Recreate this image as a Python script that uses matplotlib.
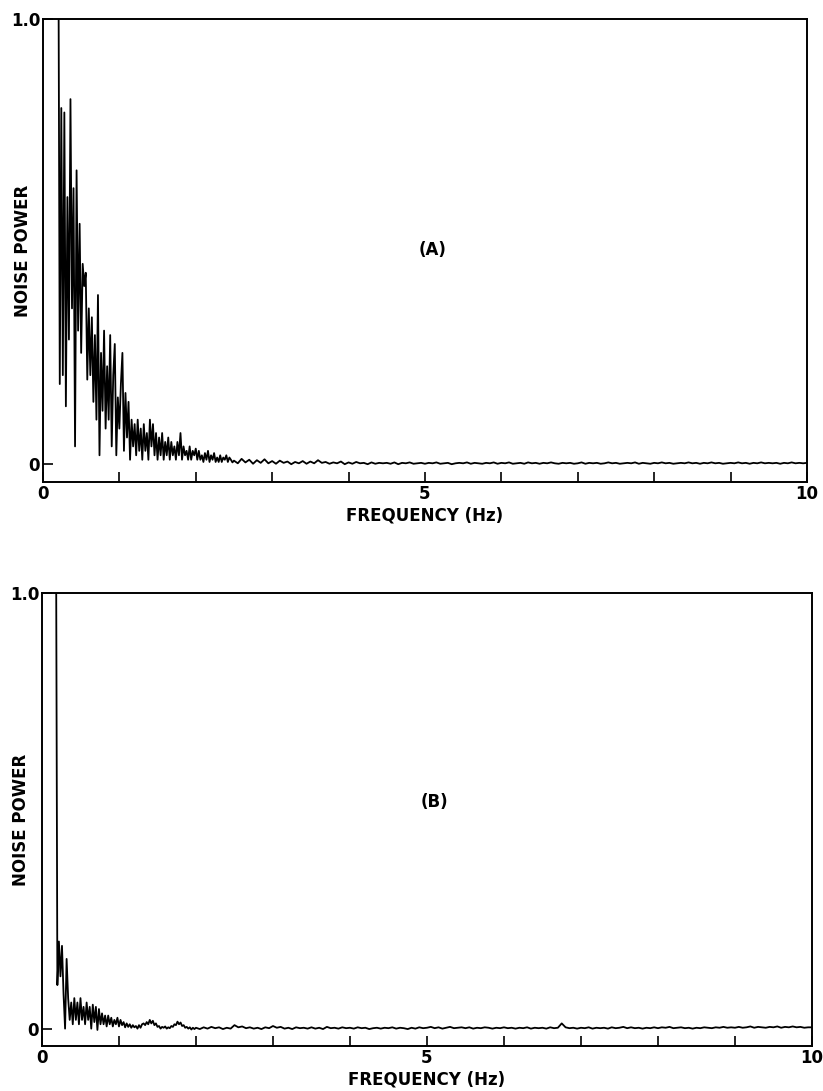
import matplotlib
matplotlib.use("Agg")
import matplotlib.pyplot as plt
import numpy as np

plt.rcParams['font.family'] = ['DejaVu Sans']
plt.rcParams['font.weight'] = 'bold'

fs = 12

# --- panel A: low-frequency part, 0.02 Hz bins starting at 0.20 Hz ---
a_low_start = 0.20
a_low_step = 0.02
a_low_power = [
    1.30, 0.18, 0.80, 0.20, 0.79, 0.13, 0.60, 0.28, 0.82, 0.35,
    0.62, 0.04, 0.66, 0.30, 0.54, 0.25, 0.45, 0.40, 0.43, 0.19,
    0.35, 0.20, 0.33, 0.14, 0.29, 0.10, 0.38, 0.02, 0.25, 0.12,
    0.30, 0.08, 0.22, 0.10, 0.29, 0.04, 0.20, 0.27, 0.02, 0.15,
    0.08, 0.18, 0.25, 0.03, 0.16, 0.06, 0.14, 0.01, 0.10, 0.04,
    0.09, 0.02, 0.10, 0.03, 0.08, 0.01, 0.09, 0.03, 0.07, 0.01,
    0.10, 0.04, 0.09, 0.02, 0.07, 0.01, 0.06, 0.02, 0.07, 0.01,
    0.05, 0.02, 0.06, 0.01, 0.05, 0.02, 0.04, 0.01, 0.05, 0.02,
    0.07, 0.01, 0.04, 0.02, 0.03, 0.01, 0.04, 0.01, 0.03, 0.02,
    0.035, 0.01, 0.03, 0.01, 0.02, 0.005, 0.025, 0.01, 0.03, 0.005,
    0.02, 0.01, 0.025, 0.005, 0.015, 0.005, 0.02, 0.005, 0.015, 0.01,
    0.02, 0.005, 0.015, 0.01, 0.004,
]

# --- panel A: tail, 0.05 Hz bins from 2.50 Hz ---
a_tail_start = 2.50
a_tail_step = 0.05
a_tail_power = [
    0.008, 0.002, 0.012, 0.004, 0.010, 0.001, 0.009, 0.003, 0.011, 0.002,
    0.007, 0.001, 0.008, 0.003, 0.006, 0.000, 0.005, 0.002, 0.007, 0.001,
    0.006, 0.002, 0.009, 0.003, 0.005, 0.001, 0.004, 0.002, 0.006, 0.000,
    0.004, 0.001, 0.005, 0.002, 0.003, 0.000, 0.004, 0.001, 0.003, 0.002,
    0.003, 0.001, 0.004, 0.000, 0.003, 0.002, 0.004, 0.001, 0.002, 0.003,
    0.001, 0.003, 0.002, 0.004, 0.001, 0.002, 0.003, 0.000, 0.002, 0.003,
    0.002, 0.004, 0.001, 0.003, 0.002, 0.001, 0.003, 0.002, 0.004, 0.001,
    0.003, 0.002, 0.004, 0.001, 0.002, 0.003, 0.001, 0.004, 0.002, 0.003,
    0.001, 0.003, 0.002, 0.004, 0.002, 0.001, 0.003, 0.002, 0.003, 0.001,
    0.002, 0.004, 0.001, 0.003, 0.002, 0.003, 0.001, 0.002, 0.004, 0.002,
    0.003, 0.001, 0.002, 0.003, 0.002, 0.004, 0.001, 0.003, 0.002, 0.001,
    0.003, 0.002, 0.004, 0.002, 0.003, 0.001, 0.002, 0.003, 0.002, 0.004,
    0.002, 0.003, 0.001, 0.003, 0.002, 0.004, 0.002, 0.003, 0.001, 0.002,
    0.003, 0.002, 0.004, 0.002, 0.003, 0.001, 0.003, 0.002, 0.004, 0.002,
    0.003, 0.002, 0.003, 0.001, 0.003, 0.002, 0.004, 0.002, 0.003, 0.002,
    0.003,
]

# --- panel B: low-frequency part, 0.02 Hz bins starting at 0.18 Hz ---
b_low_start = 0.18
b_low_step = 0.02
b_low_power = [
    1.30, 0.10, 0.20, 0.12, 0.19, 0.08, 0.00, 0.16, 0.07, 0.02,
    0.06, 0.01, 0.07, 0.02, 0.06, 0.01, 0.07, 0.02, 0.05, 0.01,
    0.06, 0.02, 0.05, 0.00, 0.055, 0.015, 0.05, -0.003, 0.045, 0.01,
    0.035, 0.01, 0.03, 0.005, 0.03, 0.01, 0.025, 0.005, 0.02, 0.01,
    0.025, 0.005, 0.02, 0.008, 0.015, 0.003, 0.012, 0.004, 0.01, 0.002,
    0.008, 0.003, 0.006, 0.000, 0.008, 0.002, 0.01, 0.012, 0.008, 0.015,
    0.01, 0.02, 0.012, 0.018, 0.008, 0.012, 0.004, 0.006, 0.000, 0.004,
    0.002, 0.005, 0.000, 0.003, 0.001, 0.006, 0.004, 0.01, 0.008, 0.016,
    0.01, 0.014, 0.006, 0.008, 0.002, 0.004, 0.000, 0.003, -0.002, 0.002,
    -0.001,
]

# --- panel B: tail, 0.05 Hz bins from 2.00 Hz ---
b_tail_start = 2.00
b_tail_step = 0.05
b_tail_power = [
    0.002, -0.001, 0.003, 0.000, 0.004, 0.001, 0.003, -0.001, 0.002, 0.000,
    0.008, 0.003, 0.005, 0.001, 0.003, 0.000, 0.002, -0.001, 0.003, 0.001,
    0.006, 0.002, 0.004, 0.000, 0.002, -0.001, 0.003, 0.001, 0.002, 0.000,
    0.003, 0.000, 0.002, -0.001, 0.004, 0.001, 0.002, 0.000, 0.003, 0.001,
    0.002, 0.000, 0.003, 0.001, 0.002, -0.001, 0.001, 0.002, 0.000, 0.002,
    0.001, 0.003, 0.000, 0.002, 0.001, -0.001, 0.002, 0.000, 0.003, 0.001,
    0.002, 0.004, 0.001, 0.003, 0.000, 0.002, 0.004, 0.001, 0.002, 0.003,
    0.001, 0.003, 0.000, 0.002, 0.001, 0.003, 0.002, 0.000, 0.002, 0.001,
    0.003, 0.001, 0.002, 0.000, 0.002, 0.001, 0.003, 0.000, 0.002, 0.001,
    0.002, 0.000, 0.003, 0.001, 0.002, 0.012, 0.003, 0.001, 0.002, 0.000,
    0.002, 0.001, 0.003, 0.000, 0.002, 0.001, 0.002, 0.000, 0.003, 0.001,
    0.002, 0.004, 0.001, 0.003, 0.001, 0.002, 0.000, 0.002, 0.001, 0.003,
    0.001, 0.003, 0.002, 0.004, 0.001, 0.002, 0.003, 0.001, 0.002, 0.000,
    0.002, 0.001, 0.003, 0.002, 0.001, 0.003, 0.002, 0.004, 0.002, 0.003,
    0.002, 0.004, 0.002, 0.003, 0.005, 0.002, 0.004, 0.003, 0.002, 0.004,
    0.003, 0.005, 0.002, 0.004, 0.003, 0.005, 0.003, 0.004, 0.002, 0.003,
    0.003,
]

x_ticks = list(range(0, 11))
x_tick_labels = ['0', '', '', '', '', '5', '', '', '', '', '10']
y_ticks = [0, 1.0]
y_tick_labels = ['0', '1.0']


def spectrum(low_start, low_step, low_vals, tail_start, tail_step, tail_vals):
    f_low = low_start + low_step * np.arange(len(low_vals))
    f_tail = tail_start + tail_step * np.arange(len(tail_vals))
    return np.concatenate([f_low, f_tail]), np.concatenate([low_vals, tail_vals])


def style_axes(ax, tag, tag_y):
    ax.set_xlim(0, 10)
    ax.set_ylim(-0.04, 1.0)
    for s in ax.spines.values():
        s.set_linewidth(1.4)
    ax.set_xticks(x_ticks)
    ax.set_xticklabels(x_tick_labels, fontsize=fs, fontweight='bold')
    ax.set_yticks(y_ticks)
    ax.set_yticklabels(y_tick_labels, fontsize=fs, fontweight='bold')
    ax.tick_params(axis='both', direction='in', length=7, width=1.2, pad=2)
    ax.set_xlabel('FREQUENCY (Hz)', fontsize=fs, fontweight='bold', labelpad=3)
    ax.set_ylabel('NOISE POWER', fontsize=fs, fontweight='bold')
    ax.yaxis.set_label_coords(-0.015, 0.5)
    ax.text(5.1, tag_y, tag, fontsize=fs, fontweight='bold', ha='center', va='center')


fig = plt.figure(figsize=(8.23, 10.91), dpi=100)
ax_a = fig.add_axes([0.0522, 0.5582, 0.9283, 0.4244])
ax_b = fig.add_axes([0.0510, 0.0412, 0.9356, 0.4153])

fa, pa = spectrum(a_low_start, a_low_step, a_low_power, a_tail_start, a_tail_step, a_tail_power)
fb, pb = spectrum(b_low_start, b_low_step, b_low_power, b_tail_start, b_tail_step, b_tail_power)

ax_a.plot(fa, pa, color='black', lw=1.3)
ax_b.plot(fb, pb, color='black', lw=1.3)

style_axes(ax_a, '(A)', 0.48)
style_axes(ax_b, '(B)', 0.52)

plt.savefig('out.png', dpi=100)
plt.close()
